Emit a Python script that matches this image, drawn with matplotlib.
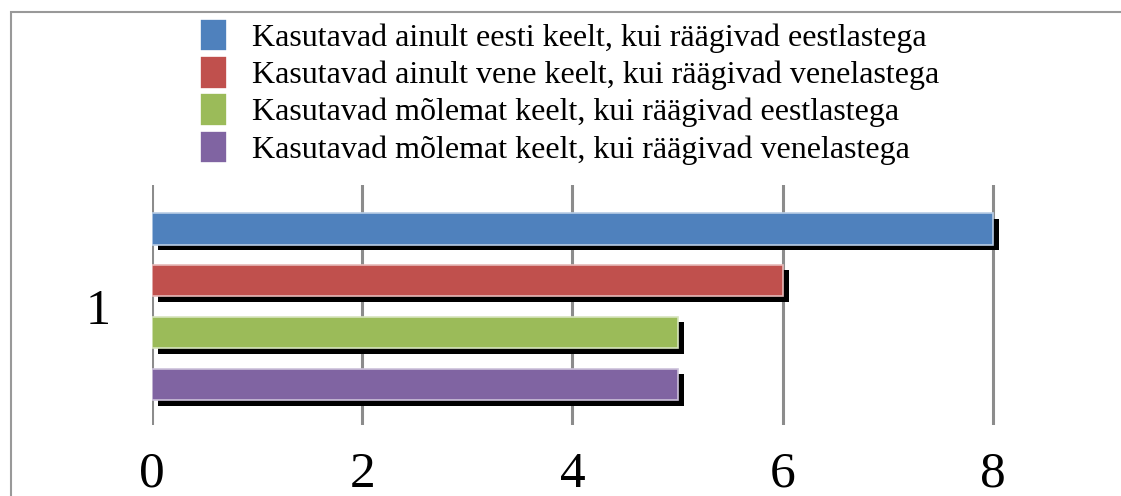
import matplotlib
matplotlib.use("Agg")
import matplotlib.pyplot as plt
import matplotlib.patheffects as pe
from matplotlib.patches import Rectangle

categories = ["1"]
series_labels = [
    "Kasutavad ainult eesti keelt, kui räägivad eestlastega",
    "Kasutavad ainult vene keelt, kui räägivad venelastega",
    "Kasutavad mõlemat keelt, kui räägivad eestlastega",
    "Kasutavad mõlemat keelt, kui räägivad venelastega",
]
series_values = [8, 6, 5, 5]
colors = ["#4F81BD", "#C0504D", "#9BBB59", "#8064A2"]
edge_colors = ["#B9CDE5", "#E6B9B8", "#D7E4BD", "#CCC1DA"]
x_ticks = [0, 2, 4, 6, 8]

W, H, DPI = 1121, 496, 100
fig = plt.figure(figsize=(W / DPI, H / DPI), dpi=DPI)
plt.rcParams['font.family'] = ['Liberation Serif', 'DejaVu Serif']

# figure border (only top and left edges visible)
fig.add_artist(Rectangle((11 / W, -0.1), 1.2, (H - 12) / H + 0.1,
                         transform=fig.transFigure, fill=False,
                         edgecolor="#999999", linewidth=1.5))

ax_left, ax_right = 152, 1098
ax_top, ax_bot = 185, 425
ax = fig.add_axes([ax_left / W, 1 - ax_bot / H, (ax_right - ax_left) / W, (ax_bot - ax_top) / H])

positions = list(range(len(series_values)))
shadow = [pe.SimplePatchShadow(offset=(4.3, -4.3), shadow_rgbFace="black", alpha=1.0), pe.Normal()]
handles = []
for i, (v, c, ec, lab) in enumerate(zip(series_values, colors, edge_colors, series_labels)):
    b = ax.barh(positions[i], v, height=0.615, color=c, edgecolor=ec, linewidth=1.2,
                label=lab, zorder=3)
    for p in b.patches:
        p.set_path_effects(shadow)
    handles.append(b)

ax.set_xlim(0, 9)
ax.set_ylim(3.779, -0.837)
ax.set_xticks(x_ticks)
ax.set_xticklabels([str(t) for t in x_ticks], fontsize=37)
ax.set_yticks([1.5])
ax.set_yticklabels(categories, fontsize=36)
ax.tick_params(axis='x', length=0, pad=19)
ax.tick_params(axis='y', length=0, pad=30)
for s in ax.spines.values():
    s.set_visible(False)
ax.grid(axis='x', color="#8C8C8C", linewidth=2.2, zorder=0)
ax.set_axisbelow(True)

leg = fig.legend(handles=handles, labels=series_labels, loc="upper left",
                 bbox_to_anchor=(171 / W, 1 + 10 / H), frameon=False,
                 fontsize=23, handlelength=0.84, handleheight=1.19,
                 handletextpad=0.78, labelspacing=0.1)
for h in leg.legend_handles:
    h.set_path_effects([])
    h.set_edgecolor("white")

fig.savefig("out.png", dpi=DPI)
